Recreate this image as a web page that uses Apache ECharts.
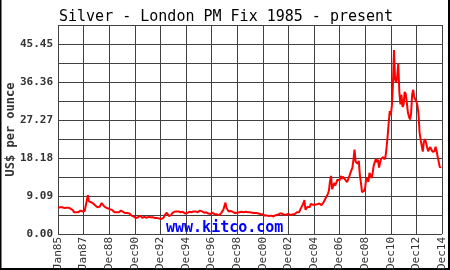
<!DOCTYPE html>
<html>
<head>
<meta charset="utf-8">
<script src="https://cdn.jsdelivr.net/npm/echarts@6/dist/echarts.min.js"></script>
<style>
html,body{margin:0;padding:0;background:#fff;}
#chart{width:450px;height:270px;}
</style>
</head>
<body>
<div id="chart"></div>
<script>
const chartTitle = 'Silver - London PM Fix 1985 - present';
const yAxisName = 'US$ per ounce';
const watermark = 'www.kitco.com';
const xTickLabels = ['Jan85','Jan87','Dec88','Dec90','Dec92','Dec94','Dec96','Dec98','Dec00','Dec02','Dec04','Dec06','Dec08','Dec10','Dec12','Dec14'];
const yTickLabels = ['0.00','9.09','18.18','27.27','36.36','45.45'];

// monthly London PM fix (US$/oz), Jan 1985 onward
const prices1985to1994 = [
  6.3,6.2,6.4,6.6,6.4,6.3,6.2,6.4,6.3,6.4,6.3,6.1,
  6.0,6.0,5.7,5.2,5.1,5.2,5.1,5.2,5.6,5.6,5.5,5.4,
  5.5,5.5,5.8,8.0,9.3,7.8,8.0,7.6,7.7,7.3,6.9,6.8,
  6.7,6.4,6.4,6.5,6.6,7.4,7.0,6.7,6.4,6.3,6.3,6.1,
  5.9,5.9,5.8,5.7,5.3,5.2,5.3,5.2,5.2,5.2,5.3,5.6,
  5.3,5.3,5.1,5.0,5.0,5.0,4.9,4.9,4.8,4.4,4.3,4.2,
  4.0,3.8,4.0,4.0,4.1,4.4,4.3,3.9,4.1,4.1,4.1,3.9,
  4.1,4.1,4.1,4.0,4.0,4.0,3.9,3.8,3.8,3.8,3.8,3.7,
  3.7,3.6,3.7,3.9,4.5,4.5,5.1,4.9,4.3,4.3,4.5,5.0,
  5.1,5.3,5.5,5.4,5.4,5.4,5.3,5.2,5.6,5.3,5.2,4.9
];
const prices1995to2004 = [
  4.8,5.0,4.6,5.3,5.5,5.2,5.3,5.4,5.5,5.4,5.2,5.2,
  5.5,5.6,5.5,5.4,5.3,5.1,5.1,5.2,5.2,4.9,4.8,4.8,
  4.8,5.1,5.3,4.7,4.8,4.7,4.4,4.5,4.7,5.0,5.1,5.8,
  6.0,7.5,6.2,6.3,5.4,5.3,5.5,5.1,5.3,5.0,5.0,4.9,
  5.1,5.5,5.2,5.1,5.3,5.0,5.2,5.3,5.3,5.4,5.2,5.2,
  5.2,5.3,5.1,5.0,5.0,5.0,5.0,4.9,4.9,4.9,4.7,4.7,
  4.7,4.5,4.4,4.4,4.4,4.4,4.3,4.2,4.4,4.3,4.2,4.4,
  4.5,4.4,4.6,4.6,4.9,5.0,4.9,4.6,4.6,4.4,4.6,4.7,
  4.8,4.6,4.5,4.5,4.7,4.5,4.8,5.0,5.2,4.9,5.2,5.6,
  6.3,6.5,7.3,8.1,5.8,5.9,6.5,6.7,6.4,7.2,7.5,7.0
];
const prices2005to2014 = [
  6.7,7.0,7.3,7.1,7.1,7.3,7.1,6.9,7.1,7.6,7.8,8.6,
  9.0,9.6,10.4,12.6,13.9,10.7,11.1,12.2,11.6,11.7,13.0,13.4,
  12.8,13.9,13.2,13.7,13.4,13.1,12.9,12.4,12.8,13.7,14.5,14.3,
  15.9,17.8,20.2,17.3,17.3,16.8,17.5,14.1,12.3,10.0,9.7,10.3,
  11.2,13.5,13.1,12.5,14.6,14.7,13.4,14.6,16.4,17.2,17.9,17.2,
  17.8,15.9,17.1,18.0,18.4,18.4,17.9,18.4,20.6,23.3,26.5,29.4,
  28.4,30.7,35.8,44.0,37.0,36.2,37.6,40.8,34.0,31.0,33.3,30.4,
  30.9,34.0,33.5,31.5,29.1,28.1,27.4,28.7,33.4,34.5,32.7,32.6,
  31.7,30.7,28.7,24.2,22.5,21.1,19.7,22.0,22.7,21.9,20.8,19.8,
  19.8,20.8,21.1,19.7,19.3,19.8,20.9,19.8,18.4,17.2,15.9,16.2
];

const prices = prices1985to1994.concat(prices1995to2004, prices2005to2014);
const seriesData = prices.map((v, i) => [i, v]);

const yStep = 50 / 11;
const mono = 'DejaVu Sans Mono';

const chart = echarts.init(document.getElementById('chart'), null, {renderer: 'canvas'});
chart.setOption({
  animation: false,
  backgroundColor: '#ffffff',
  title: {
    text: chartTitle,
    left: 54, top: 5,
    textStyle: {fontFamily: mono, fontSize: 15, fontWeight: 'normal', color: '#000'}
  },
  grid: {left: 58, top: 25, width: 384, height: 209, show: false, containLabel: false, outerBoundsMode: 'none'},
  xAxis: {
    type: 'value', min: 0, max: 360, interval: 24,
    axisLine: {show: false},
    axisTick: {show: false},
    splitLine: {show: true, lineStyle: {color: '#404040', width: 1}},
    axisLabel: {
      rotate: 90, margin: 3,
      fontFamily: mono, fontSize: 11, color: '#333',
      formatter: function (v) { return xTickLabels[Math.round(v / 24)] || ''; }
    }
  },
  yAxis: {
    type: 'value', min: 0, max: 50, interval: yStep,
    name: yAxisName, nameLocation: 'middle', nameGap: 41, nameRotate: 90,
    nameMoveOverlap: false,
    nameTextStyle: {fontFamily: mono, fontSize: 12, fontWeight: 'bold', color: '#333'},
    axisLine: {show: false},
    axisTick: {show: false},
    splitLine: {show: true, lineStyle: {color: '#404040', width: 1}},
    axisLabel: {
      margin: 5,
      fontFamily: mono, fontSize: 11, fontWeight: 'bold', color: '#333',
      formatter: function (v) {
        const i = Math.round(v / yStep);
        return i % 2 === 0 ? (yTickLabels[i / 2] || '') : '';
      }
    }
  },
  graphic: [
    {type: 'text', left: 166, top: 221, z: 1, style: {text: watermark, font: 'bold 15px "DejaVu Sans Mono"', fill: '#0000ff'}},
    {type: 'rect', shape: {x: 0, y: 0, width: 1.5, height: 270}, style: {fill: '#000'}},
    {type: 'rect', shape: {x: 448, y: 0, width: 2, height: 270}, style: {fill: '#000'}},
    {type: 'rect', shape: {x: 0, y: 268, width: 450, height: 2}, style: {fill: '#000'}}
  ],
  series: [{
    type: 'line',
    data: seriesData,
    showSymbol: false,
    symbol: 'none',
    lineStyle: {color: '#ff0000', width: 2},
    z: 5
  }]
});
</script>
</body>
</html>
